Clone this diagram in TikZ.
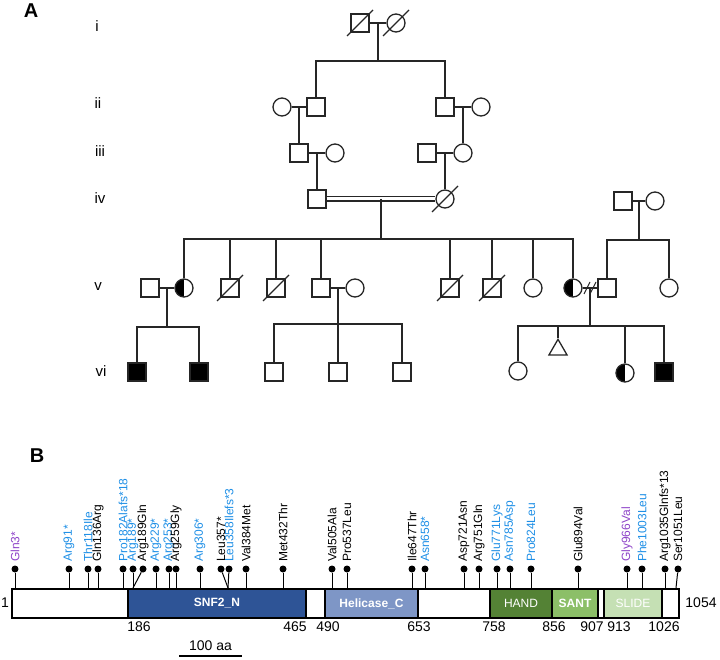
\documentclass[tikz,border=0pt]{standalone}
\usepackage{fontspec}
\setmainfont{Liberation Sans}
\usetikzlibrary{calc,shapes.geometric}
\definecolor{snfblue}{HTML}{2E5496}
\definecolor{helblue}{HTML}{7E96C6}
\definecolor{handgreen}{HTML}{548235}
\definecolor{santgreen}{HTML}{8CBF68}
\definecolor{slidegreen}{HTML}{C5E0B4}
\definecolor{varblue}{HTML}{1E8FE6}
\definecolor{varpurple}{HTML}{8E44C8}
\newcommand{\deadslash}[1]{\draw[pedline] ([shift={(-13,13)}]#1.center) -- ([shift={(13,-13)}]#1.center);}
\tikzset{
  pedline/.style={line width=1.3pt, draw=black!85},
  male/.style={rectangle, draw=black!85, line width=1.3pt, minimum size=18pt, inner sep=0pt, fill=white},
  female/.style={circle, draw=black!85, line width=1.3pt, minimum size=18pt, inner sep=0pt, fill=white},
  affected/.style={fill=black},
  carrier/.style={path picture={\fill[black] (path picture bounding box.south west) rectangle (path picture bounding box.north);}},
  unknown/.style={regular polygon, regular polygon sides=3, draw=black!85, line width=1.3pt, minimum size=21pt, inner sep=0pt, anchor=corner 1},
  genlbl/.style={font=\fontsize{15}{17}\selectfont},
  panel/.style={font=\fontsize{20}{24}\selectfont\bfseries},
  dom/.style={rectangle, draw=black, line width=1.6pt, minimum height=29pt, inner sep=0pt, text=white, font=\fontsize{12}{14}\selectfont},
  aanum/.style={font=\fontsize{14}{16}\selectfont, inner sep=0pt},
  mut/.style={rotate=90, anchor=west, inner sep=0pt, font=\fontsize{12}{14}\selectfont},
  lolli/.style={circle, fill=black, inner sep=0pt, minimum size=7pt},
  stemline/.style={line width=1pt}
}
\begin{document}
\begin{tikzpicture}[x=1pt, y=-1pt]
\useasboundingbox (0,0) rectangle (720,660);
\node[panel] (pa) at (31,11) {A};
\node[genlbl] (gi) at (97,26) {i};
\node[genlbl] (gii) at (98,103) {ii};
\node[genlbl] (giii) at (100,151) {iii};
\node[genlbl] (giv) at (100,198) {iv};
\node[genlbl] (gv) at (98,287) {v};
\node[genlbl] (gvi) at (101,371) {vi};

\node[male] (i1) at (360,23) {};
\node[female] (i2) at (396,23) {};
\node[female] (ii1) at (282,107) {};
\node[male] (ii2) at (316,107) {};
\node[male] (ii3) at (445,107) {};
\node[female] (ii4) at (481,107) {};
\node[male] (iii1) at (299,153) {};
\node[female] (iii2) at (335,153) {};
\node[male] (iii3) at (427,153) {};
\node[female] (iii4) at (463,153) {};
\node[male] (iv1) at (317,199) {};
\node[female] (iv2) at (445,199) {};
\node[male] (iv3) at (623,201) {};
\node[female] (iv4) at (655,201) {};

\node[male] (v1) at (150,288) {};
\node[female, carrier] (v2) at (184,288) {};
\node[male] (v3) at (230,288) {};
\node[male] (v4) at (276,288) {};
\node[male] (v5) at (321,288) {};
\node[female] (v6) at (355,288) {};
\node[male] (v7) at (450,288) {};
\node[male] (v8) at (492,288) {};
\node[female] (v9) at (533,288) {};
\node[female, carrier] (v10) at (573,288) {};
\node[male] (v11) at (607,288) {};
\node[female] (v12) at (669,288) {};

\node[male, affected] (vi1) at (137,372) {};
\node[male, affected] (vi2) at (199,372) {};
\node[male] (vi3) at (274,372) {};
\node[male] (vi4) at (338,372) {};
\node[male] (vi5) at (402,372) {};
\node[female] (vi6) at (518,371) {};
\node[unknown] (vi7) at (558,338) {};
\node[female, carrier] (vi8) at (625,373) {};
\node[male, affected] (vi9) at (664,372) {};

\foreach \n in {i1,i2,iv2,v3,v4,v7,v8} {\deadslash{\n}}

\draw[pedline] (i1) -- (i2);
\draw[pedline] (ii1) -- (ii2);
\draw[pedline] (ii3) -- (ii4);
\draw[pedline] (iii1) -- (iii2);
\draw[pedline] (iii3) -- (iii4);
\draw[pedline, line width=1.1pt, double, double distance=3pt] (iv1) -- (iv2);
\draw[pedline] (iv3) -- (iv4);
\draw[pedline] (v1) -- (v2);
\draw[pedline] (v5) -- (v6);
\draw[pedline] (v10) -- (v11);

\coordinate (m1) at ($(i1)!.5!(i2)$);
\coordinate (s1) at ($(m1)+(0,38)$);
\draw[pedline] (m1) -- (s1);
\draw[pedline] (ii2.north) |- (s1) -| (ii3.north);

\coordinate (m2a) at ($(ii1)!.5!(ii2)$);
\coordinate (m2b) at ($(ii3)!.5!(ii4)$);
\draw[pedline] (m2a) -- (m2a |- iii1.north);
\draw[pedline] (m2b) -- (m2b |- iii4.north);
\coordinate (m3a) at ($(iii1)!.5!(iii2)$);
\coordinate (m3b) at ($(iii3)!.5!(iii4)$);
\draw[pedline] (m3a) -- (m3a |- iv1.north);
\draw[pedline] (m3b) -- (m3b |- iv2.north);

\coordinate (m4) at ($(iv1)!.5!(iv2)$);
\coordinate (s4) at ($(m4)+(0,40)$);
\draw[pedline] (m4) -- (s4);
\draw[pedline] (v2.north) |- (s4) -| (v10.north);
\foreach \n in {v3,v4,v5,v7,v8,v9} {\draw[pedline] (\n.north) -- (\n.north |- s4);}

\coordinate (m4b) at ($(iv3)!.5!(iv4)$);
\coordinate (s4b) at ($(m4b)+(0,39)$);
\draw[pedline] (m4b) -- (s4b);
\draw[pedline] (v11.north) |- (s4b) -| (v12.north);

\coordinate (m5a) at ($(v1)!.5!(v2)$);
\coordinate (s5a) at ($(m5a)+(0,39)$);
\draw[pedline] (m5a) -- (s5a);
\draw[pedline] (vi1.north) |- (s5a) -| (vi2.north);

\coordinate (m5b) at ($(v5)!.5!(v6)$);
\coordinate (s5b) at ($(m5b)+(0,36)$);
\draw[pedline] (m5b) -- (m5b |- vi4.north);
\draw[pedline] (vi3.north) |- (s5b) -| (vi5.north);

\coordinate (dv) at ($(v10)!.5!(v11)$);
\coordinate (s5c) at ($(dv)+(0,38)$);
\foreach \dx in {-3,3} {\draw[pedline, line width=1pt] ([shift={(\dx-3,6)}]dv) -- ([shift={(\dx+3,-6)}]dv);}
\draw[pedline] (dv) -- (s5c);
\draw[pedline] (vi6.north) |- (s5c) -| (vi9.north);
\draw[pedline] (vi7.corner 1) -- (vi7.corner 1 |- s5c);
\draw[pedline] (vi8.north) -- (vi8.north |- s5c);

\node[panel] (pb) at (37,456) {B};
\node[dom, fill=white, minimum width=667pt, line width=2pt] (bar) at (345.5,603.5) {};
\node[dom, fill=snfblue, minimum width=178pt, font=\fontsize{12}{14}\selectfont\bfseries] (snf) at (217,603.5) {SNF2\_N};
\node[dom, fill=helblue, minimum width=93pt, font=\fontsize{12}{14}\selectfont\bfseries] (hel) at (371.5,603.5) {Helicase\_C};
\node[dom, fill=handgreen, minimum width=62pt] (hand) at (521,603.5) {HAND};
\node[dom, fill=santgreen, minimum width=46pt, font=\fontsize{12}{14}\selectfont\bfseries] (sant) at (575,603.5) {SANT};
\node[dom, fill=slidegreen, minimum width=58pt] (slide) at (633,603.5) {SLIDE};

\node[aanum] (n1) at (5,603) {1};
\node[aanum] (n1054) at (701,603) {1054};
\foreach \p/\x in {186/139,465/295,490/328,653/419,758/494,856/554,907/592,913/619,1026/664}
  {\node[aanum] (n\p) at (\x,627) {\p};}

\foreach \i/\dx/\bx/\lbl/\col in {
  1/15/15/Gln3*/varpurple, 2/69/69/Arg91*/varblue, 3/88/88/Thr118Ile/varblue,
  4/98/98/Gln136Arg/black, 5/123/123/Pro182Alafs*18/varblue, 6/133/133/Arg189*/varblue,
  7/143/133/Arg189Gln/black, 8/156/156/Arg229*/varblue, 9/169/169/Arg253*/varblue,
  10/176/176/Arg259Gly/black, 11/200/200/Arg306*/varblue, 12/221/228/Leu357*/black,
  13/229/228/Leu358Ilefs*3/varblue, 14/246/246/Val384Met/black, 15/283/283/Met432Thr/black,
  16/332/332/Val505Ala/black, 17/347/347/Pro537Leu/black, 18/412/412/Ile647Thr/black,
  19/425/425/Asn658*/varblue, 20/464/464/Asp721Asn/black, 21/479/479/Arg751Gln/black,
  22/497/497/Glu771Lys/varblue, 23/510/510/Asn785Asp/varblue, 24/531/531/Pro824Leu/varblue,
  25/578/578/Glu894Val/black, 26/627/627/Gly966Val/varpurple, 27/642/642/Phe1003Leu/varblue,
  28/665/665/Arg1035Glnfs*13/black, 29/678/676/Ser1051Leu/black}{
  \node[lolli] (d\i) at (\dx,569) {};
  \coordinate (b\i) at (\bx,588);
  \draw[stemline] (d\i) -- (b\i);
  \node[mut, text=\col] (t\i) at (\dx,562) {\lbl};
}

\coordinate (sb1) at (179,656);
\coordinate (sb2) at (242,656);
\draw[line width=1.6pt] (sb1) -- (sb2);
\node[aanum] (sbl) at (210.5,646) {100 aa};
\end{tikzpicture}
\end{document}
